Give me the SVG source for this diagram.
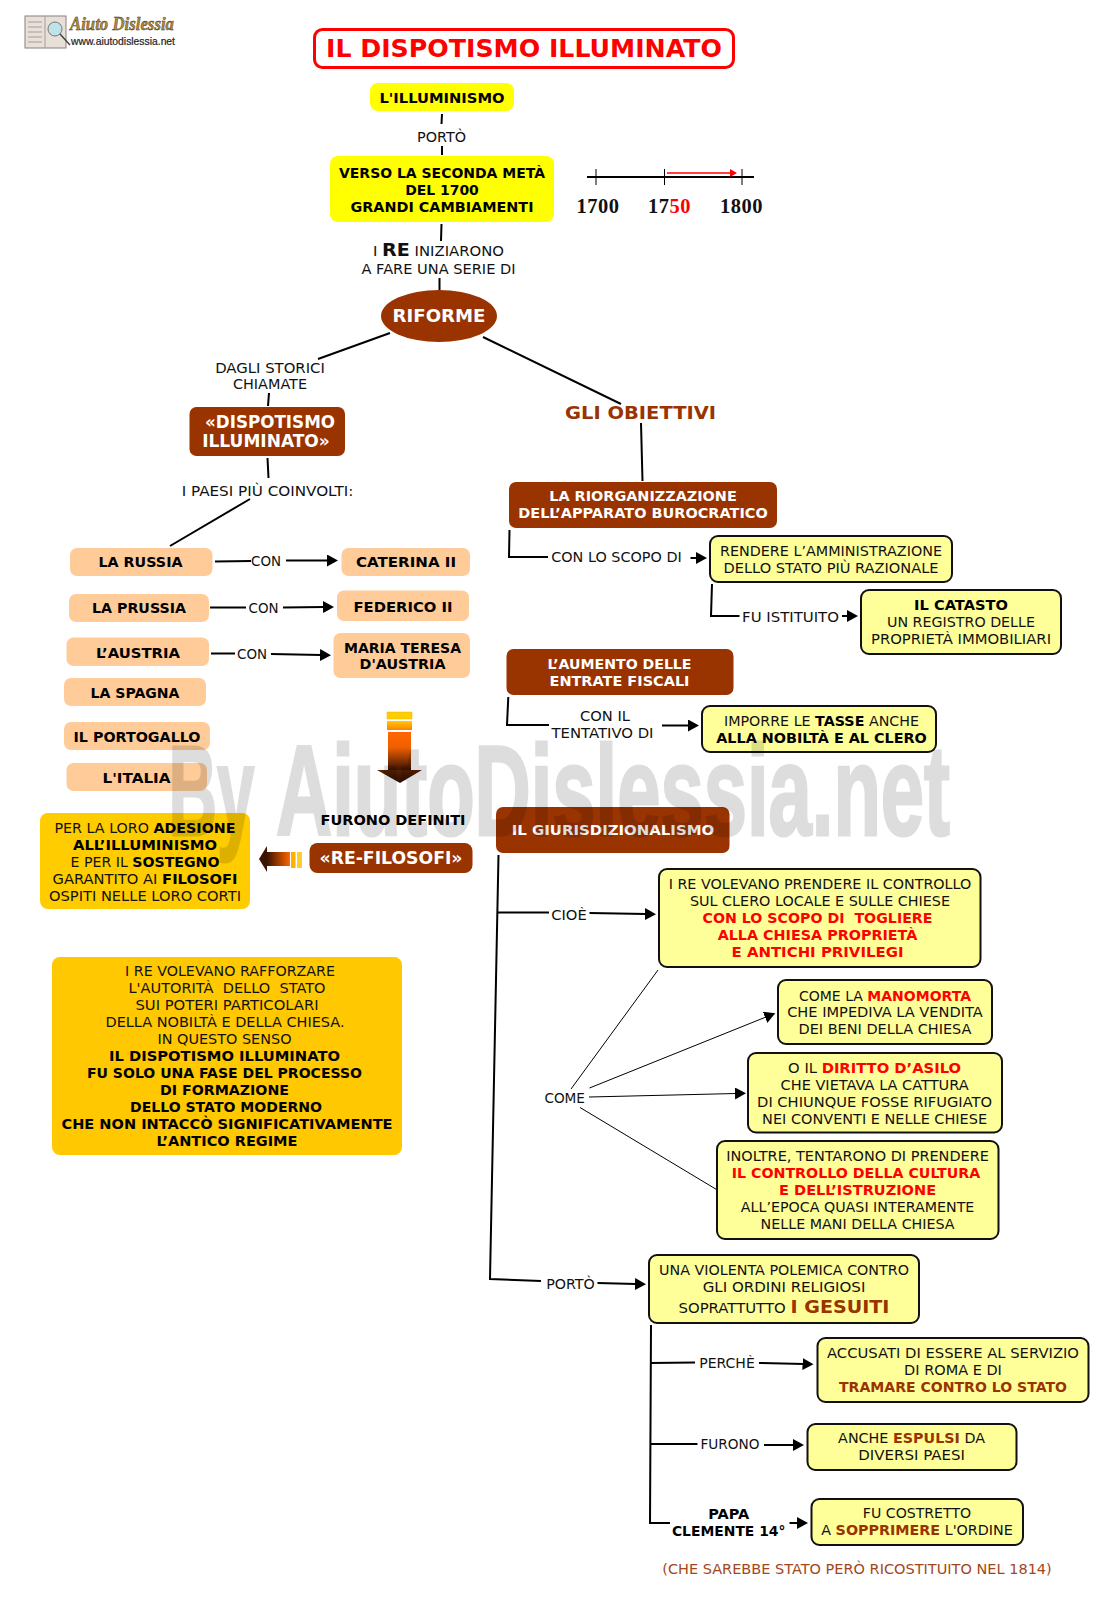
<svg xmlns="http://www.w3.org/2000/svg" width="1116" height="1609" viewBox="0 0 1116 1609">
<style>
text{font-family:"DejaVu Sans",Verdana,sans-serif;font-size:14px;text-anchor:middle;fill:#111}
.w text,text.w{fill:#fff;font-weight:bold}
.r{fill:#f00;font-weight:bold}
.m{fill:#993300;font-weight:bold}
.k{fill:#000;font-weight:bold}
.n{font-size:14.5px;font-weight:bold;fill:#000}
.brown{fill:#993300}
.peach{fill:#ffcc99}
.pale{fill:#ffff99;stroke:#111;stroke-width:2}
.gold{fill:#ffcc00}
.yel{fill:#ffff00}
.c path,.c polyline{fill:none;stroke:#000;stroke-width:2}
.c .thin{stroke-width:1}
.ar{marker-end:url(#ah)}
.yr{font-family:"Liberation Serif",serif;font-size:20px;font-weight:bold;letter-spacing:.5px}
.wm{font-family:"Liberation Sans",sans-serif;font-size:128px;font-weight:bold;fill:#000;stroke:#000;stroke-width:3}
</style>
<defs>
<marker id="ah" markerUnits="userSpaceOnUse" markerWidth="12" markerHeight="12" refX="1" refY="6" orient="auto"><path d="M0 0L11 6L0 12z" fill="#000"/></marker>
<marker id="ar" markerUnits="userSpaceOnUse" markerWidth="8" markerHeight="10" refX="1" refY="5" orient="auto"><path d="M0 1L7 5L0 9z" fill="#f00"/></marker>
<linearGradient id="gd" x1="0" y1="0" x2="0" y2="1"><stop offset="0" stop-color="#ff6600"/><stop offset=".4" stop-color="#f06000"/><stop offset="1" stop-color="#3a1400"/></linearGradient>
<linearGradient id="gh" x1="0" y1="0" x2="0" y2="1"><stop offset="0" stop-color="#5a2200"/><stop offset="1" stop-color="#2a0e00"/></linearGradient>
<linearGradient id="gy" x1="0" y1="0" x2="0" y2="1"><stop offset="0" stop-color="#ffcc00"/><stop offset="1" stop-color="#ff8000"/></linearGradient>
<linearGradient id="gl" x1="0" y1="0" x2="1" y2="0"><stop offset="0" stop-color="#3a1400"/><stop offset="1" stop-color="#ff6600"/></linearGradient>
</defs>

<g id="logo">
<rect x="25" y="16" width="41" height="32" fill="#e8e0d8" stroke="#8a7f80"/>
<path d="M45 16V48M28 22H42M28 27H42M28 32H42M28 37H42M28 42H42" stroke="#a89a9a" fill="none"/>
<circle cx="55" cy="29" r="7" fill="#bfe3ea" stroke="#777"/>
<path d="M60 34L70 45" stroke="#444" stroke-width="1.500"/>
<text x="122" y="30" style="font-family:'Liberation Serif',serif;font-size:18px;font-weight:bold;font-style:italic;fill:#b08a3c;stroke:#3a2a10;stroke-width:.4" textLength="104" lengthAdjust="spacingAndGlyphs">Aiuto Dislessia</text>
<text x="123" y="44.500" style="font-family:'Liberation Sans',sans-serif;font-size:10.500px;fill:#222;stroke:#222;stroke-width:.2" textLength="104" lengthAdjust="spacingAndGlyphs">www.aiutodislessia.net</text>
</g>

<g id="connectors" class="c">
<path d="M442 114L441.500 124M442 146V155M441.500 224L441 241M439.500 278V290"/>
<path d="M390 333L318 359M269 393L268 406M267.500 458L268.500 478M250 499L170 546"/>
<path d="M483 337L621 404M641 423L642.500 481"/>
<polyline points="509.500,530 509,557 548,557"/>
<path class="ar" d="M690.500 558H697"/>
<polyline points="712,584 711,616 739.500,616"/>
<path class="ar" d="M842 616H848"/>
<polyline points="508.300,697 507,725 549,725"/>
<path class="ar" d="M662 725.500H689"/>
<path d="M215 561.500L251 561"/><path class="ar" d="M286 560.500H328"/>
<path d="M210 607.500H246"/><path class="ar" d="M283 607.500L324 607"/>
<path d="M211 653.500H235"/><path class="ar" d="M271 654L321 655"/>
<path d="M498.500 855L490 1279L541 1281"/>
<path d="M497 912.500H549"/><path class="ar" d="M589.500 913L646 914"/>
<path class="ar" d="M597.500 1283L636 1284"/>
<path class="thin" d="M571 1089L658 970"/>
<path class="thin ar" d="M589.500 1088L766 1017"/>
<path class="thin ar" d="M589 1097L736 1093.500"/>
<path class="thin" d="M580 1107.500L716.500 1189.500"/>
<polyline points="651,1325 650,1523 670,1523"/>
<path d="M651 1363L695 1362.500"/><path class="ar" d="M759 1363L803.500 1364"/>
<path d="M651 1444H697.500"/><path class="ar" d="M764 1445H794"/>
<path class="ar" d="M789.500 1523H798"/>
</g>

<g id="timeline">
<path d="M587 177H754" stroke="#000" stroke-width="2"/>
<path d="M596 169V185M664.500 169V185M742 169V185" stroke="#000" fill="none"/>
<path d="M667 173H731" stroke="#f00" stroke-width="1.500" fill="none" marker-end="url(#ar)"/>
<text class="yr" x="598" y="213" textLength="43" lengthAdjust="spacingAndGlyphs">1700</text>
<text class="yr" x="669.500" y="213" textLength="43" lengthAdjust="spacingAndGlyphs">17<tspan fill="#f00">50</tspan></text>
<text class="yr" x="741.500" y="213" textLength="43" lengthAdjust="spacingAndGlyphs">1800</text>
</g>

<g id="title"><rect x="314.500" y="29.500" width="419" height="38" rx="8" fill="#fff" stroke="#f00" stroke-width="3"/>
<text x="524" y="56.500" style="font-size:24px;font-weight:bold;fill:#f00" textLength="396" lengthAdjust="spacingAndGlyphs">IL DISPOTISMO ILLUMINATO</text></g>

<g id="illuminismo"><rect class="yel" x="370" y="83" width="144" height="28" rx="8"/><text class="k" x="442" y="103" textLength="125" lengthAdjust="spacingAndGlyphs">L'ILLUMINISMO</text></g>
<text x="441.500" y="142" textLength="49" lengthAdjust="spacingAndGlyphs">PORTÒ</text>
<g id="verso"><rect class="yel" x="330" y="156" width="224" height="66" rx="8"/>
<text class="k" x="442" y="178" textLength="206" lengthAdjust="spacingAndGlyphs">VERSO LA SECONDA METÀ</text><text class="k" x="442" y="195" textLength="73.600" lengthAdjust="spacingAndGlyphs">DEL 1700</text><text class="k" x="442" y="212" textLength="183" lengthAdjust="spacingAndGlyphs">GRANDI CAMBIAMENTI</text></g>
<text x="438.500" y="256" textLength="131" lengthAdjust="spacingAndGlyphs">I <tspan style="font-size:18px;font-weight:bold">RE</tspan> INIZIARONO</text>
<text x="438.500" y="274" textLength="154" lengthAdjust="spacingAndGlyphs">A FARE UNA SERIE DI</text>

<g id="riforme"><ellipse class="brown" cx="439" cy="316" rx="58" ry="26"/><text class="w" x="439" y="322" style="font-size:18px" textLength="93" lengthAdjust="spacingAndGlyphs">RIFORME</text></g>
<text x="270" y="373" textLength="109.700" lengthAdjust="spacingAndGlyphs">DAGLI STORICI</text><text x="270" y="389" textLength="74" lengthAdjust="spacingAndGlyphs">CHIAMATE</text>
<g id="dispotismo" class="w"><rect class="brown" x="189.500" y="407" width="155.500" height="49" rx="7"/><text x="270" y="428" style="font-size:17px" textLength="130" lengthAdjust="spacingAndGlyphs">«DISPOTISMO</text><text x="266" y="447" style="font-size:17px" textLength="127.700" lengthAdjust="spacingAndGlyphs">ILLUMINATO»</text></g>
<text x="267.500" y="496" textLength="171.700" lengthAdjust="spacingAndGlyphs">I PAESI PIÙ COINVOLTI:</text>
<g id="obiettivi"><text class="m" x="640.500" y="419" style="font-size:18px" textLength="151" lengthAdjust="spacingAndGlyphs">GLI OBIETTIVI</text></g>

<g id="russia"><rect class="peach" x="70" y="548" width="142.500" height="28" rx="7"/><text class="n" x="140.500" y="567" textLength="84" lengthAdjust="spacingAndGlyphs">LA RUSSIA</text></g>
<text x="266" y="566" textLength="30" lengthAdjust="spacingAndGlyphs">CON</text>
<g id="caterina"><rect class="peach" x="341.500" y="548" width="128.500" height="28" rx="7"/><text class="n" x="406" y="567" textLength="100" lengthAdjust="spacingAndGlyphs">CATERINA II</text></g>
<g id="prussia"><rect class="peach" x="69" y="594" width="140" height="28" rx="7"/><text class="n" x="139" y="613" textLength="94" lengthAdjust="spacingAndGlyphs">LA PRUSSIA</text></g>
<text x="263.500" y="612.500" textLength="30" lengthAdjust="spacingAndGlyphs">CON</text>
<g id="federico"><rect class="peach" x="337" y="590.500" width="132" height="30.500" rx="7"/><text class="n" x="403" y="611.500" textLength="99" lengthAdjust="spacingAndGlyphs">FEDERICO II</text></g>
<g id="austria"><rect class="peach" x="66.500" y="637.500" width="142.500" height="28.500" rx="7"/><text class="n" x="138" y="657.500" textLength="84" lengthAdjust="spacingAndGlyphs">L’AUSTRIA</text></g>
<text x="252" y="658.500" textLength="30" lengthAdjust="spacingAndGlyphs">CON</text>
<g id="maria"><rect class="peach" x="333.500" y="633" width="136.500" height="45" rx="7"/><text class="n" x="402.500" y="653" textLength="117" lengthAdjust="spacingAndGlyphs">MARIA TERESA</text><text class="n" x="402.500" y="669" textLength="86" lengthAdjust="spacingAndGlyphs">D'AUSTRIA</text></g>
<g id="spagna"><rect class="peach" x="64" y="678" width="142" height="28" rx="7"/><text class="n" x="135" y="698" textLength="89" lengthAdjust="spacingAndGlyphs">LA SPAGNA</text></g>
<g id="portogallo"><rect class="peach" x="64" y="722" width="146" height="28" rx="7"/><text class="n" x="137" y="742" textLength="127" lengthAdjust="spacingAndGlyphs">IL PORTOGALLO</text></g>
<g id="italia"><rect class="peach" x="66.500" y="763" width="140.500" height="28" rx="7"/><text class="n" x="136.500" y="783" textLength="68" lengthAdjust="spacingAndGlyphs">L'ITALIA</text></g>

<g id="arrow-down">
<rect x="387" y="712" width="25" height="7" fill="#ffcc00" stroke="#e8b800" stroke-width=".5"/>
<rect x="387" y="721" width="25" height="9" fill="url(#gy)"/>
<rect x="388" y="732" width="23" height="38" fill="url(#gd)"/>
<path d="M377 770H422L400 783z" fill="url(#gh)"/>
</g>
<text class="n" x="393" y="825" textLength="145" lengthAdjust="spacingAndGlyphs">FURONO DEFINITI</text>
<g id="refilosofi" class="w"><rect class="brown" x="309.500" y="843" width="163" height="30" rx="8"/><text x="391" y="864" style="font-size:17px" textLength="143" lengthAdjust="spacingAndGlyphs">«RE-FILOSOFI»</text></g>
<g id="arrow-left">
<path d="M259 859L267 846V872z" fill="#3a1400"/>
<rect x="267" y="852" width="23" height="14" fill="url(#gl)"/>
<rect x="291" y="852" width="4.500" height="16" fill="#ffb000"/><rect x="297" y="852" width="5" height="16" fill="#ffcc33"/>
</g>
<g id="adesione"><rect class="gold" x="40" y="813" width="210" height="96" rx="8"/>
<text x="145" y="833" textLength="181" lengthAdjust="spacingAndGlyphs">PER LA LORO <tspan class="k">ADESIONE</tspan></text>
<text class="k" x="145" y="850" textLength="144" lengthAdjust="spacingAndGlyphs">ALL’ILLUMINISMO</text>
<text x="145" y="867" textLength="149" lengthAdjust="spacingAndGlyphs">E PER IL <tspan class="k">SOSTEGNO</tspan></text>
<text x="145" y="884" textLength="185" lengthAdjust="spacingAndGlyphs">GARANTITO AI <tspan class="k">FILOSOFI</tspan></text>
<text x="145" y="901" textLength="192" lengthAdjust="spacingAndGlyphs">OSPITI NELLE LORO CORTI</text></g>

<g id="volevano"><rect x="52" y="957" width="350" height="198" rx="8" fill="#ffc800"/>
<text x="230" y="976" textLength="210" lengthAdjust="spacingAndGlyphs">I RE VOLEVANO RAFFORZARE</text>
<text x="227" y="993" xml:space="preserve" textLength="197" lengthAdjust="spacingAndGlyphs">L'AUTORITÀ  DELLO  STATO</text>
<text x="227" y="1010" textLength="183" lengthAdjust="spacingAndGlyphs">SUI POTERI PARTICOLARI</text>
<text x="225" y="1027" textLength="239" lengthAdjust="spacingAndGlyphs">DELLA NOBILTÀ E DELLA CHIESA.</text>
<text x="224.500" y="1044" textLength="134" lengthAdjust="spacingAndGlyphs">IN QUESTO SENSO</text>
<text class="k" x="224.500" y="1061" textLength="231" lengthAdjust="spacingAndGlyphs">IL DISPOTISMO ILLUMINATO</text>
<text class="k" x="224.500" y="1078" textLength="275" lengthAdjust="spacingAndGlyphs">FU SOLO UNA FASE DEL PROCESSO</text>
<text class="k" x="224.500" y="1095" textLength="129" lengthAdjust="spacingAndGlyphs">DI FORMAZIONE</text>
<text class="k" x="226" y="1112" textLength="192" lengthAdjust="spacingAndGlyphs">DELLO STATO MODERNO</text>
<text class="k" x="227" y="1129" textLength="331" lengthAdjust="spacingAndGlyphs">CHE NON INTACCÒ SIGNIFICATIVAMENTE</text>
<text class="k" x="227" y="1146" textLength="141" lengthAdjust="spacingAndGlyphs">L’ANTICO REGIME</text></g>

<g id="riorganizzazione" class="w"><rect class="brown" x="509" y="482" width="268" height="46" rx="7"/><text x="643" y="501" textLength="187.500" lengthAdjust="spacingAndGlyphs">LA RIORGANIZZAZIONE</text><text x="643" y="518" textLength="249.500" lengthAdjust="spacingAndGlyphs">DELL’APPARATO BUROCRATICO</text></g>
<text x="616.500" y="562" textLength="130.500" lengthAdjust="spacingAndGlyphs">CON LO SCOPO DI</text>
<g id="rendere"><rect class="pale" x="710" y="536" width="242" height="46" rx="8"/><text x="831" y="556" textLength="222" lengthAdjust="spacingAndGlyphs">RENDERE L’AMMINISTRAZIONE</text><text x="831" y="573" textLength="215" lengthAdjust="spacingAndGlyphs">DELLO STATO PIÙ RAZIONALE</text></g>
<text x="790.500" y="622" textLength="96.800" lengthAdjust="spacingAndGlyphs">FU ISTITUITO</text>
<g id="catasto"><rect class="pale" x="861" y="590" width="200" height="64" rx="8"/><text class="k" x="961" y="610" textLength="93.800" lengthAdjust="spacingAndGlyphs">IL CATASTO</text><text x="961" y="627" textLength="148" lengthAdjust="spacingAndGlyphs">UN REGISTRO DELLE</text><text x="961" y="644" textLength="180" lengthAdjust="spacingAndGlyphs">PROPRIETÀ IMMOBILIARI</text></g>
<g id="aumento" class="w"><rect class="brown" x="506.500" y="649" width="227" height="46" rx="7"/><text x="619.500" y="669" textLength="144" lengthAdjust="spacingAndGlyphs">L’AUMENTO DELLE</text><text x="619.500" y="686" textLength="140" lengthAdjust="spacingAndGlyphs">ENTRATE FISCALI</text></g>
<text x="605" y="721" textLength="50" lengthAdjust="spacingAndGlyphs">CON IL</text><text x="602.500" y="738" textLength="102" lengthAdjust="spacingAndGlyphs">TENTATIVO DI</text>
<g id="imporre"><rect class="pale" x="702" y="706" width="234" height="46" rx="8"/><text x="821.500" y="726" textLength="195" lengthAdjust="spacingAndGlyphs">IMPORRE LE <tspan class="k">TASSE</tspan> ANCHE</text><text class="k" x="821.500" y="743" textLength="210.500" lengthAdjust="spacingAndGlyphs">ALLA NOBILTÀ E AL CLERO</text></g>

<g id="giurisdizionalismo" class="w"><rect class="brown" x="496" y="807" width="233.500" height="46" rx="7"/><text x="613" y="835" textLength="202.500" lengthAdjust="spacingAndGlyphs">IL GIURISDIZIONALISMO</text></g>
<text x="569" y="920" textLength="35.500" lengthAdjust="spacingAndGlyphs">CIOÈ</text>
<g id="controllo"><rect class="pale" x="659" y="869" width="321.500" height="98" rx="8"/>
<text x="820" y="889" textLength="302.700" lengthAdjust="spacingAndGlyphs">I RE VOLEVANO PRENDERE IL CONTROLLO</text><text x="820" y="906" textLength="260" lengthAdjust="spacingAndGlyphs">SUL CLERO LOCALE E SULLE CHIESE</text>
<text class="r" x="817.500" y="923" xml:space="preserve" textLength="230" lengthAdjust="spacingAndGlyphs">CON LO SCOPO DI  TOGLIERE</text><text class="r" x="817.500" y="940" textLength="199.700" lengthAdjust="spacingAndGlyphs">ALLA CHIESA PROPRIETÀ</text><text class="r" x="817.500" y="957" textLength="172" lengthAdjust="spacingAndGlyphs">E ANTICHI PRIVILEGI</text></g>
<text x="564.700" y="1103" textLength="40.600" lengthAdjust="spacingAndGlyphs">COME</text>
<g id="manomorta"><rect class="pale" x="778" y="980" width="214" height="64" rx="8"/><text x="885" y="1000.500" textLength="172" lengthAdjust="spacingAndGlyphs">COME LA <tspan class="r">MANOMORTA</tspan></text><text x="885" y="1017" textLength="195.600" lengthAdjust="spacingAndGlyphs">CHE IMPEDIVA LA VENDITA</text><text x="885" y="1034" textLength="173" lengthAdjust="spacingAndGlyphs">DEI BENI DELLA CHIESA</text></g>
<g id="asilo"><rect class="pale" x="748" y="1053" width="254" height="79.500" rx="8"/><text x="874.600" y="1073" textLength="173" lengthAdjust="spacingAndGlyphs">O IL <tspan class="r">DIRITTO D’ASILO</tspan></text><text x="874.600" y="1090" textLength="188" lengthAdjust="spacingAndGlyphs">CHE VIETAVA LA CATTURA</text><text x="874.600" y="1107" textLength="235" lengthAdjust="spacingAndGlyphs">DI CHIUNQUE FOSSE RIFUGIATO</text><text x="874.600" y="1124" textLength="225" lengthAdjust="spacingAndGlyphs">NEI CONVENTI E NELLE CHIESE</text></g>
<g id="cultura"><rect class="pale" x="717" y="1141" width="281.500" height="98" rx="8"/><text x="857.600" y="1161" textLength="262.700" lengthAdjust="spacingAndGlyphs">INOLTRE, TENTARONO DI PRENDERE</text><text class="r" x="856" y="1178" textLength="248.600" lengthAdjust="spacingAndGlyphs">IL CONTROLLO DELLA CULTURA</text><text class="r" x="857.600" y="1195" textLength="157" lengthAdjust="spacingAndGlyphs">E DELL’ISTRUZIONE</text><text x="857.600" y="1212" textLength="233.500" lengthAdjust="spacingAndGlyphs">ALL’EPOCA QUASI INTERAMENTE</text><text x="857.600" y="1229" textLength="194" lengthAdjust="spacingAndGlyphs">NELLE MANI DELLA CHIESA</text></g>
<text x="570.500" y="1289" textLength="48.700" lengthAdjust="spacingAndGlyphs">PORTÒ</text>
<g id="polemica"><rect class="pale" x="649" y="1255" width="270" height="68" rx="8"/><text x="784" y="1275" textLength="250" lengthAdjust="spacingAndGlyphs">UNA VIOLENTA POLEMICA CONTRO</text><text x="784" y="1292" textLength="162.700" lengthAdjust="spacingAndGlyphs">GLI ORDINI RELIGIOSI</text><text x="784" y="1313" textLength="211" lengthAdjust="spacingAndGlyphs">SOPRATTUTTO <tspan class="m" style="font-size:18px">I GESUITI</tspan></text></g>
<text x="727" y="1368" textLength="55.600" lengthAdjust="spacingAndGlyphs">PERCHÈ</text>
<g id="accusati"><rect class="pale" x="817.500" y="1338" width="271" height="64" rx="8"/><text x="953" y="1358" textLength="252" lengthAdjust="spacingAndGlyphs">ACCUSATI DI ESSERE AL SERVIZIO</text><text x="953" y="1375" textLength="97.800" lengthAdjust="spacingAndGlyphs">DI ROMA E DI</text><text class="m" x="953" y="1392" textLength="228" lengthAdjust="spacingAndGlyphs">TRAMARE CONTRO LO STATO</text></g>
<text x="730" y="1449" textLength="59" lengthAdjust="spacingAndGlyphs">FURONO</text>
<g id="espulsi"><rect class="pale" x="807.500" y="1424" width="209" height="46" rx="8"/><text x="911.600" y="1443" textLength="147" lengthAdjust="spacingAndGlyphs">ANCHE <tspan class="m">ESPULSI</tspan> DA</text><text x="911.600" y="1460" textLength="106.700" lengthAdjust="spacingAndGlyphs">DIVERSI PAESI</text></g>
<text class="k" x="728.700" y="1519" textLength="41" lengthAdjust="spacingAndGlyphs">PAPA</text><text class="k" x="728.700" y="1536" textLength="113.600" lengthAdjust="spacingAndGlyphs">CLEMENTE 14°</text>
<g id="sopprimere"><rect class="pale" x="811.500" y="1499" width="211.500" height="46" rx="8"/><text x="917" y="1518" textLength="108.300" lengthAdjust="spacingAndGlyphs">FU COSTRETTO</text><text x="917" y="1535" textLength="191.500" lengthAdjust="spacingAndGlyphs">A <tspan class="m">SOPPRIMERE</tspan> L'ORDINE</text></g>
<text x="857" y="1574" style="fill:#a5451a" textLength="389.500" lengthAdjust="spacingAndGlyphs">(CHE SAREBBE STATO PERÒ RICOSTITUITO NEL 1814)</text>

<g id="watermark" opacity=".13">
<text class="wm" x="211.500" y="835" textLength="86" lengthAdjust="spacingAndGlyphs">By</text>
<text class="wm" x="613" y="835" textLength="674" lengthAdjust="spacingAndGlyphs">AiutoDislessia.net</text>
</g>
</svg>
